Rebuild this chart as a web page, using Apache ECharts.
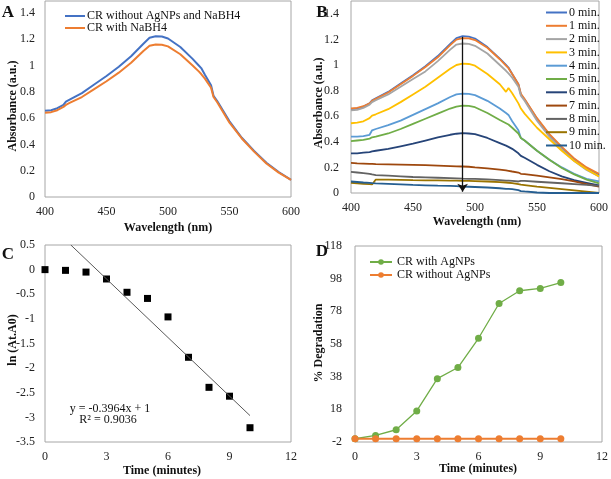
<!DOCTYPE html>
<html>
<head>
<meta charset="utf-8">
<script src="https://cdn.jsdelivr.net/npm/echarts@6/dist/echarts.min.js"></script>
<style>
  * { margin: 0; padding: 0; }
  body { background: #fff; }
</style>
</head>
<body>
<!-- four panels in one echarts instance -->
<div id="main" style="width: 611px;height: 479px;"></div>
<script>
// wavelength grid (nm) shared by panel A and B
var wavelength = [400, 405, 410, 415, 417, 420, 430, 440, 450, 460, 470, 480, 485, 490, 495, 500, 510, 520, 525, 527, 530, 535, 537, 540, 550, 560, 570, 580, 590, 600];

// panel A
var crWithout = [0.655, 0.66, 0.675, 0.70, 0.725, 0.74, 0.79, 0.855, 0.92, 0.99, 1.07, 1.165, 1.21, 1.222, 1.22, 1.205, 1.14, 1.05, 1.0, 0.98, 0.93, 0.85, 0.77, 0.73, 0.575, 0.45, 0.35, 0.26, 0.19, 0.13];
var crNaBH4 = [0.64, 0.645, 0.66, 0.685, 0.70, 0.715, 0.76, 0.82, 0.88, 0.945, 1.02, 1.11, 1.15, 1.16, 1.158, 1.145, 1.085, 1.0, 0.955, 0.935, 0.9, 0.83, 0.76, 0.72, 0.565, 0.445, 0.345, 0.255, 0.185, 0.13];

// panel B, one array per minute
var min0 = [0.655, 0.66, 0.675, 0.70, 0.725, 0.74, 0.79, 0.855, 0.92, 0.99, 1.07, 1.165, 1.21, 1.225, 1.222, 1.207, 1.14, 1.05, 1.0, 0.98, 0.93, 0.85, 0.77, 0.73, 0.58, 0.455, 0.355, 0.265, 0.195, 0.14];
var min1 = [0.66, 0.665, 0.678, 0.70, 0.72, 0.735, 0.785, 0.85, 0.915, 0.985, 1.06, 1.155, 1.198, 1.21, 1.208, 1.195, 1.135, 1.045, 0.995, 0.975, 0.93, 0.85, 0.775, 0.735, 0.585, 0.46, 0.36, 0.27, 0.2, 0.15];
var min2 = [0.645, 0.65, 0.665, 0.69, 0.71, 0.725, 0.77, 0.83, 0.89, 0.95, 1.03, 1.12, 1.16, 1.168, 1.165, 1.15, 1.09, 1.0, 0.955, 0.935, 0.9, 0.83, 0.76, 0.72, 0.565, 0.44, 0.34, 0.25, 0.18, 0.13];
var min3 = [0.545, 0.55, 0.56, 0.585, 0.605, 0.615, 0.655, 0.71, 0.77, 0.83, 0.9, 0.97, 1.0, 1.01, 1.008, 0.995, 0.93, 0.85, 0.79, 0.82, 0.78, 0.70, 0.66, 0.62, 0.51, 0.42, 0.33, 0.25, 0.185, 0.13];
var min4 = [0.44, 0.44, 0.445, 0.455, 0.49, 0.5, 0.53, 0.565, 0.61, 0.655, 0.7, 0.75, 0.77, 0.777, 0.775, 0.765, 0.72, 0.66, 0.625, 0.61, 0.56, 0.49, 0.43, 0.41, 0.33, 0.26, 0.2, 0.15, 0.11, 0.09];
var min5 = [0.405, 0.41, 0.415, 0.425, 0.435, 0.44, 0.465, 0.5, 0.54, 0.58, 0.62, 0.66, 0.675, 0.682, 0.68, 0.67, 0.625, 0.57, 0.545, 0.535, 0.51, 0.465, 0.43, 0.41, 0.33, 0.26, 0.195, 0.145, 0.105, 0.075];
var min6 = [0.31, 0.31, 0.315, 0.32, 0.325, 0.33, 0.345, 0.365, 0.385, 0.41, 0.435, 0.455, 0.463, 0.467, 0.465, 0.46, 0.43, 0.39, 0.37, 0.36, 0.345, 0.31, 0.29, 0.275, 0.22, 0.17, 0.13, 0.1, 0.08, 0.06];
var min7 = [0.235, 0.232, 0.23, 0.228, 0.227, 0.225, 0.223, 0.221, 0.219, 0.217, 0.214, 0.21, 0.208, 0.207, 0.205, 0.2, 0.192, 0.182, 0.176, 0.173, 0.168, 0.16, 0.15, 0.147, 0.135, 0.122, 0.108, 0.09, 0.07, 0.05];
var min8 = [0.165, 0.16, 0.155, 0.15, 0.145, 0.14, 0.135, 0.13, 0.125, 0.122, 0.119, 0.116, 0.114, 0.112, 0.111, 0.11, 0.106, 0.1, 0.097, 0.096, 0.094, 0.09, 0.095, 0.094, 0.088, 0.082, 0.076, 0.07, 0.063, 0.055];
var min9 = [0.08, 0.075, 0.072, 0.069, 0.067, 0.105, 0.104, 0.102, 0.1, 0.099, 0.098, 0.097, 0.096, 0.095, 0.094, 0.093, 0.09, 0.085, 0.082, 0.08, 0.077, 0.07, 0.065, 0.062, 0.05, 0.04, 0.03, 0.02, 0.01, 0.0];
var min10 = [0.09, 0.086, 0.082, 0.079, 0.077, 0.075, 0.071, 0.067, 0.063, 0.06, 0.057, 0.055, 0.053, 0.05, 0.049, 0.047, 0.043, 0.037, 0.033, 0.032, 0.03, 0.022, 0.015, 0.012, 0.004, 0, 0, 0, 0, 0];
var minuteNames = ['0 min.', '1 min.', '2 min.', '3 min.', '4 min.', '5 min.', '6 min.', '7 min.', '8 min.', '9 min.', '10 min.'];
var minuteColors = ['#4472C4', '#ED7D31', '#A5A5A5', '#FFC000', '#5B9BD5', '#70AD47', '#264478', '#9E480E', '#636363', '#997300', '#255E91'];
var arrowWl = 490;
var arrowTop = 1.22;
var arrowBottom = 0.01;

// panel C
var cTime = [0, 1, 2, 3, 4, 5, 6, 7, 8, 9, 10];
var cLn = [0, -0.015, -0.05, -0.19, -0.46, -0.585, -0.96, -1.78, -2.39, -2.57, -3.21];
var trendX = [1.26, 10];
var trendY = [0.5, -2.964];

// panel D
var dTime = [0, 1, 2, 3, 4, 5, 6, 7, 8, 9, 10];
var dWith = [0, 2, 5.5, 17, 36.8, 43.6, 61.5, 82.8, 90.6, 92, 95.6];
var dWithout = [0, 0, 0, 0, 0, 0, 0, 0, 0, 0, 0];

var absTicks = [0, 0.2, 0.4, 0.6, 0.8, 1, 1.2, 1.4];
var degTicks = [-2, 18, 38, 58, 78, 98, 118];

function zip(xs, ys) {
  return xs.map(function (x, i) { return [x, ys[i]]; });
}

var font = 'Liberation Serif';
var labelStyle = { fontFamily: font, fontSize: 12, color: '#222' };

function xAx(idx, min, max, interval) {
  return {
    type: 'value', gridIndex: idx, min: min, max: max, interval: interval,
    axisLine: { show: false }, axisTick: { show: false }, splitLine: { show: false },
    axisLabel: Object.assign({ margin: 9 }, labelStyle)
  };
}
function yAx(idx, min, max, interval, custom, margin) {
  var ax = {
    type: 'value', gridIndex: idx, min: min, max: max,
    axisLine: { show: false }, axisTick: { show: false }, splitLine: { show: false },
    axisLabel: Object.assign({ margin: margin || 10 }, labelStyle)
  };
  if (custom) ax.axisLabel.customValues = custom;
  else ax.interval = interval;
  return ax;
}

var gridStyle = { show: true, borderColor: '#a6a6a6', borderWidth: 1, containLabel: false };

var series = [
  { name: 'CR without AgNPs and NaBH4', type: 'line', xAxisIndex: 0, yAxisIndex: 0, showSymbol: false, symbol: 'none', data: zip(wavelength, crWithout), lineStyle: { width: 2, color: '#4472C4' }, itemStyle: { color: '#4472C4' } },
  { name: 'CR with NaBH4', type: 'line', xAxisIndex: 0, yAxisIndex: 0, showSymbol: false, symbol: 'none', data: zip(wavelength, crNaBH4), lineStyle: { width: 2, color: '#ED7D31' }, itemStyle: { color: '#ED7D31' } }
];

var minutes = [min0, min1, min2, min3, min4, min5, min6, min7, min8, min9, min10];
minutes.forEach(function (arr, i) {
  series.push({
    name: minuteNames[i], type: 'line', xAxisIndex: 1, yAxisIndex: 1, symbol: 'none', showSymbol: false,
    data: zip(wavelength, arr),
    lineStyle: { width: 1.8, color: minuteColors[i] }, itemStyle: { color: minuteColors[i] }
  });
});
// the black arrow in B
series[series.length - 1].markLine = {
  silent: true, symbol: ['none', 'arrow'], symbolSize: 8,
  label: { show: false },
  itemStyle: { color: '#111' },
  lineStyle: { color: '#111', width: 1.3, type: 'solid', opacity: 1 },
  emphasis: { disabled: true },
  data: [[{ coord: [arrowWl, arrowTop] }, { coord: [arrowWl, arrowBottom] }]]
};

series.push(
  { name: 'fit', type: 'line', xAxisIndex: 2, yAxisIndex: 2, symbol: 'none', data: zip(trendX, trendY), lineStyle: { width: 1, color: '#595959' } },
  { name: 'ln', type: 'scatter', xAxisIndex: 2, yAxisIndex: 2, symbol: 'rect', symbolSize: 7, data: zip(cTime, cLn), itemStyle: { color: '#000', opacity: 1 } },
  { name: 'CR with AgNPs', type: 'line', xAxisIndex: 3, yAxisIndex: 3, symbol: 'circle', symbolSize: 7, data: zip(dTime, dWith), lineStyle: { width: 1.3, color: '#70AD47' }, itemStyle: { color: '#70AD47' } },
  { name: 'CR without AgNPs', type: 'line', xAxisIndex: 3, yAxisIndex: 3, symbol: 'circle', symbolSize: 7, data: zip(dTime, dWithout), lineStyle: { width: 1.8, color: '#ED7D31' }, itemStyle: { color: '#ED7D31' } }
);

function txt(text, x, y, size, bold, rot) {
  return {
    type: 'text', x: x, y: y, rotation: rot || 0,
    style: { text: text, x: 0, y: 0, align: 'center', verticalAlign: 'middle', fontFamily: font, fontSize: size, fontWeight: bold ? 'bold' : 'normal', fill: '#111' }
  };
}

var chart = echarts.init(document.getElementById('main'));
chart.setOption({
  animation: false,
  backgroundColor: '#fff',
  grid: [
    Object.assign({ left: 45, top: 1, width: 246, height: 196 }, gridStyle),
    Object.assign({ left: 351, top: 1, width: 251, height: 192 }, gridStyle),
    Object.assign({ left: 45, top: 245, width: 246, height: 197 }, gridStyle),
    Object.assign({ left: 355, top: 246, width: 248, height: 196 }, gridStyle)
  ],
  xAxis: [
    xAx(0, 400, 600, 50),
    xAx(1, 400, 600, 50),
    xAx(2, 0, 12, 3),
    xAx(3, 0, 12, 3)
  ],
  yAxis: [
    yAx(0, 0, 1.49, null, absTicks),
    yAx(1, 0, 1.5, null, absTicks, 12),
    yAx(2, -3.5, 0.5, 0.5),
    yAx(3, -2, 118, null, degTicks, 13)
  ],
  legend: [
    {
      data: ['CR without AgNPs and NaBH4', 'CR with NaBH4'], orient: 'vertical', left: 65, top: 10, padding: 0,
      icon: 'rect', itemWidth: 20, itemHeight: 2, itemGap: 0, textStyle: { fontFamily: font, fontSize: 12, lineHeight: 10, color: '#111', padding: [0, 0, 0, -3] }
    },
    {
      data: minuteNames, orient: 'vertical', left: 546, top: 6, padding: 0,
      icon: 'rect', itemWidth: 21, itemHeight: 2, itemGap: 0.3, textStyle: { fontFamily: font, fontSize: 12, lineHeight: 13, color: '#111', padding: [0, 0, 0, -3] }
    },
    {
      data: ['CR with AgNPs', 'CR without AgNPs'], orient: 'vertical', left: 369, top: 256, padding: 0,
      itemWidth: 22, itemHeight: 7, itemGap: 1, textStyle: { fontFamily: font, fontSize: 12, lineHeight: 12, color: '#111' }
    }
  ],
  graphic: [
    txt('A', 8, 13, 17, true),
    txt('B', 322, 13, 17, true),
    txt('C', 8, 255, 17, true),
    txt('D', 322, 252, 17, true),
    txt('Wavelength (nm)', 168, 228, 12, true),
    txt('Wavelength (nm)', 477, 222, 12, true),
    txt('Time (minutes)', 162, 471, 12, true),
    txt('Time (minutes)', 478, 469, 12, true),
    txt('Absorbance (a.u.)', 13, 106, 12, true, Math.PI / 2),
    txt('Absorbance (a.u.)', 319, 103, 12, true, Math.PI / 2),
    txt('ln (At.A0)', 13, 340, 12, true, Math.PI / 2),
    txt('% Degradation', 319, 343, 12, true, Math.PI / 2),
    txt('y = -0.3964x + 1', 110, 409, 12, false),
    txt('R² = 0.9036', 108, 420, 12, false)
  ],
  series: series
});
</script>
</body>
</html>
